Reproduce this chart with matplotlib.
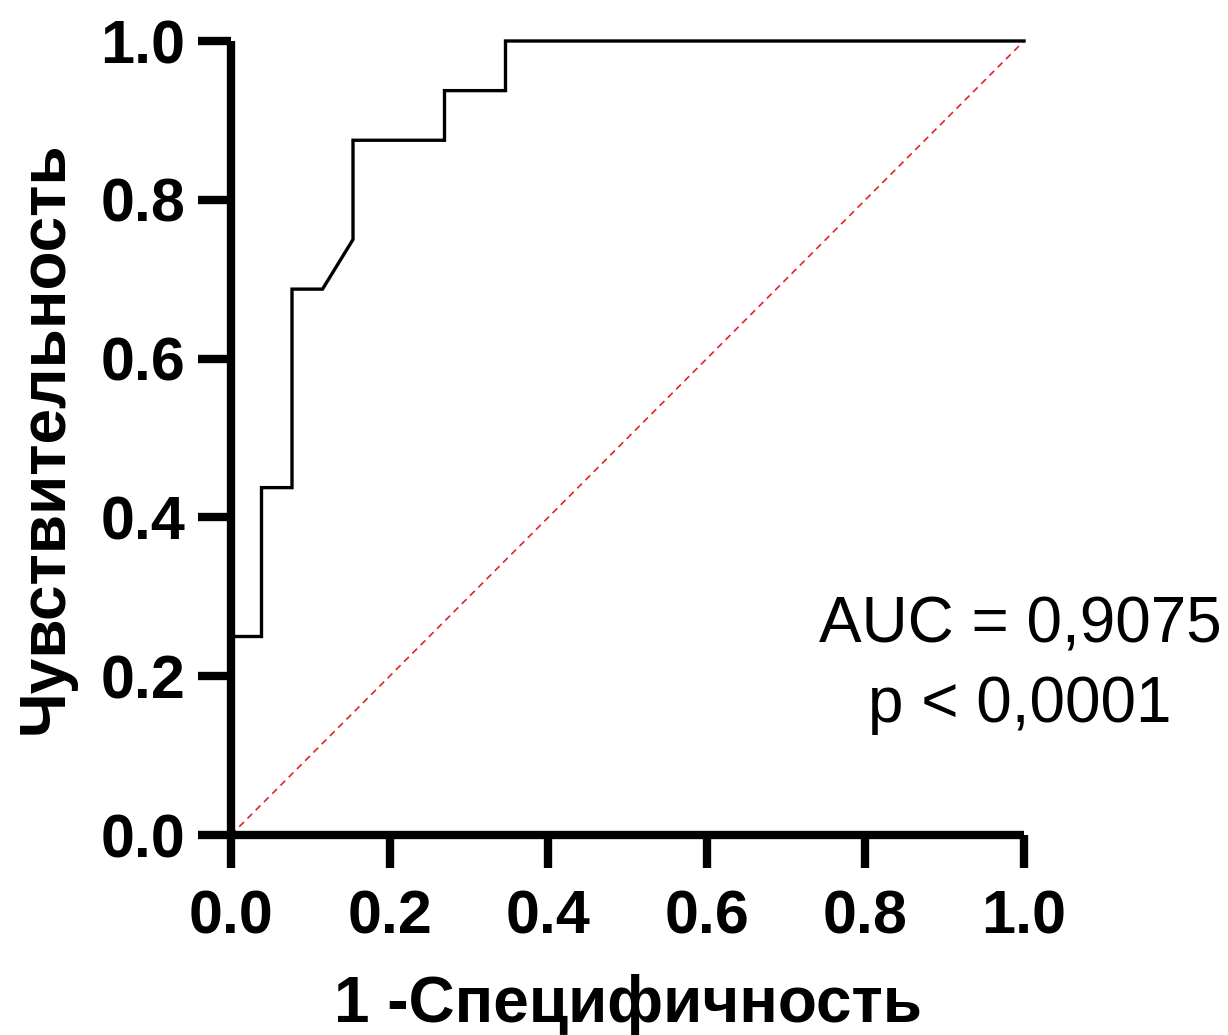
import numpy as np
import matplotlib.pyplot as plt

plt.rcParams['font.family'] = ['Liberation Sans', 'DejaVu Sans']

# ROC curve points (1 - specificity, sensitivity)
fpr = [0.0, 0.0, 1/26, 1/26, 2/26, 2/26, 3/26, 4/26, 4/26, 7/26, 7/26, 9/26, 9/26, 1.0]
tpr = [0.0, 0.25, 0.25, 0.4375, 0.4375, 0.6875, 0.6875, 0.75, 0.875, 0.875, 0.9375, 0.9375, 1.0, 1.0]
ticks = [0.0, 0.2, 0.4, 0.6, 0.8, 1.0]
auc_text = 'AUC = 0,9075'
p_text = 'p < 0,0001'

fig = plt.figure(figsize=(12.28, 10.35), dpi=100)
ax = fig.add_axes([231/1228, 200/1035, 793/1228, 794/1035])

ax.plot([0, 1], [0, 1], color='#e8202a', linestyle=(0, (4, 3)), linewidth=1.2, clip_on=False)
ax.plot(fpr, tpr, color='black', linewidth=2.4, clip_on=False, solid_joinstyle='miter')

ax.set_xlim(0, 1)
ax.set_ylim(0, 1)
ax.set_xticks(ticks)
ax.set_yticks(ticks)
ax.set_xticklabels(['%.1f' % t for t in ticks])
ax.set_yticklabels(['%.1f' % t for t in ticks])

for s in ['top', 'right']:
    ax.spines[s].set_visible(False)
for s in ['left', 'bottom']:
    ax.spines[s].set_linewidth(6)
    ax.spines[s].set_capstyle('butt')

ax.tick_params(axis='both', direction='out', length=24, width=6, labelsize=44)
ax.tick_params(axis='x', pad=15)
ax.tick_params(axis='y', pad=9)
for lab in ax.get_xticklabels() + ax.get_yticklabels():
    lab.set_fontweight('bold')

ax.set_xlabel('1 -Специфичность', fontsize=46, fontweight='bold', labelpad=20)
ax.set_ylabel('Чувствительность', fontsize=46, fontweight='bold', labelpad=18)

ax.text(0.995, 0.242, auc_text, fontsize=46, ha='center', va='baseline')
ax.text(0.995, 0.142, p_text, fontsize=46, ha='center', va='baseline')

fig.savefig('out.png', dpi=100)
